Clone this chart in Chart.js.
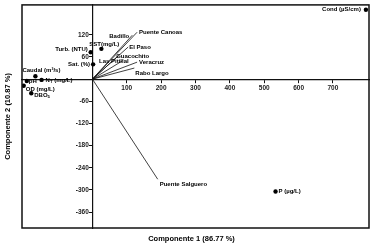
<!DOCTYPE html>
<html>
<head>
<meta charset="utf-8">
<script src="https://cdn.jsdelivr.net/npm/chart.js@4"></script>
<style>
  html, body { margin: 0; padding: 0; background: #fff; }
  #wrap { width: 373px; height: 247px; }
</style>
</head>
<body>
<div id="wrap"><canvas id="c" width="373" height="247"></canvas></div>
<script>
// ---- data ----
const xTitle = "Componente 1 (86.77 %)";
const yTitle = "Componente 2 (10.87 %)";
const xTicks = [100, 200, 300, 400, 500, 600, 700];
const yTicks = [-360, -300, -240, -180, -120, -60, 60, 120];

// site vectors (loadings)
const siteNames = ["Badillo", "Puente Canoas", "El Paso", "Guacochito", "Las Pitillal", "Veracruz", "Rabo Largo", "Puente Salguero"];
const siteX = [116, 130, 104, 75, 88, 130, 122, 190];
const siteY = [119, 127, 87, 63, 50, 46, 30, -271];

// variable scores
const varNames = ["Cond (µS/cm)", "P (µg/L)", "Turb. (NTU)", "SST(mg/L)", "Sat. (%)", "Caudal (m³/s)", "pH", "N_T (mg/L)", "OD (mg/L)", "DBO_5"];
const varX = [796, 533, -5, 26, 2, -166, -191, -148, -200, -178];
const varY = [188, -304, 73, 82, 40, 8, -5, -2, -18, -38];

// ---- label placement styles (offsets in px, alignment) ----
const siteLabelStyle = [
  {dx: -3, dy: 1, align: "right"},
  {dx: 2, dy: 0, align: "left"},
  {dx: 1, dy: 0, align: "left"},
  {dx: -2, dy: 0, align: "left"},
  {dx: 6, dy: 1, align: "right"},
  {dx: 2, dy: 0, align: "left"},
  {dx: 1, dy: 5, align: "left"},
  {dx: 2, dy: 5, align: "left"}
];
const varLabelStyle = [
  {dx: -5, dy: 0, align: "right"},
  {dx: 3, dy: 0, align: "left"},
  {dx: -3, dy: -3, align: "right"},
  {dx: 3, dy: -5, align: "center"},
  {dx: -3, dy: 0, align: "right"},
  {dx: 6, dy: -6, align: "center"},
  {dx: 2, dy: 0, align: "left"},
  {dx: 4, dy: 0, align: "left"},
  {dx: 2, dy: 4, align: "left"},
  {dx: 3, dy: 2, align: "left"}
];

const FONT = "'Liberation Sans', Arial, sans-serif";

const datasets = [];
siteNames.forEach((n, i) => {
  datasets.push({
    type: "scatter",
    label: n,
    data: [{x: 0, y: 0}, {x: siteX[i], y: siteY[i]}],
    showLine: true,
    borderColor: "#111",
    borderWidth: 0.8,
    pointRadius: 0,
    fill: false
  });
});
datasets.push({
  type: "scatter",
  label: "Variables",
  data: varX.map((v, i) => ({x: v, y: varY[i]})),
  pointRadius: 2.2,
  pointBackgroundColor: "#000",
  pointBorderColor: "#000",
  borderWidth: 0
});

function drawRich(ctx, text, x, y, align, size) {
  // supports single-char subscript after "_"
  const parts = [];
  for (let i = 0; i < text.length; i++) {
    if (text[i] === "_" && i + 1 < text.length) { parts.push({t: text[i + 1], sub: true}); i++; }
    else {
      if (parts.length && !parts[parts.length - 1].sub) parts[parts.length - 1].t += text[i];
      else parts.push({t: text[i], sub: false});
    }
  }
  const fMain = "bold " + size + "px " + FONT;
  const fSub = "bold " + (size * 0.7) + "px " + FONT;
  let w = 0;
  parts.forEach(p => { ctx.font = p.sub ? fSub : fMain; p.w = ctx.measureText(p.t).width; w += p.w; });
  let cx = align === "right" ? x - w : align === "center" ? x - w / 2 : x;
  ctx.textAlign = "left";
  ctx.textBaseline = "middle";
  parts.forEach(p => {
    ctx.font = p.sub ? fSub : fMain;
    ctx.fillText(p.t, cx, p.sub ? y + size * 0.3 : y);
    cx += p.w;
  });
}

const labelPlugin = {
  id: "labels",
  afterDatasetsDraw(chart) {
    const ctx = chart.ctx;
    const xs = chart.scales.x, ys = chart.scales.y;
    ctx.save();
    ctx.fillStyle = "#000";
    siteNames.forEach((n, i) => {
      const s = siteLabelStyle[i];
      drawRich(ctx, n, xs.getPixelForValue(siteX[i]) + s.dx, ys.getPixelForValue(siteY[i]) + s.dy, s.align, 6);
    });
    varNames.forEach((n, i) => {
      const s = varLabelStyle[i];
      drawRich(ctx, n, xs.getPixelForValue(varX[i]) + s.dx, ys.getPixelForValue(varY[i]) + s.dy, s.align, 6);
    });
    ctx.restore();
  },
  afterDraw(chart) {
    const ctx = chart.ctx, a = chart.chartArea;
    ctx.save();
    ctx.strokeStyle = "#111";
    ctx.lineWidth = 1.5;
    ctx.strokeRect(a.left, a.top, a.right - a.left, a.bottom - a.top);
    ctx.fillStyle = "#000";
    ctx.font = "bold 7.5px " + FONT;
    ctx.textAlign = "center";
    ctx.textBaseline = "middle";
    ctx.fillText(xTitle, (a.left + a.right) / 2 - 4, 239);
    ctx.translate(8, (a.top + a.bottom) / 2);
    ctx.rotate(-Math.PI / 2);
    ctx.fillText(yTitle, 0, 0);
    ctx.restore();
  }
};

new Chart(document.getElementById("c"), {
  type: "scatter",
  data: {datasets},
  options: {
    responsive: false,
    animation: false,
    devicePixelRatio: 1,
    layout: {padding: {left: 22, top: 4, right: 4, bottom: 19}},
    plugins: {legend: {display: false}, tooltip: {enabled: false}, title: {display: false}},
    scales: {
      x: {
        type: "linear",
        position: {y: 0},
        min: -205,
        max: 805,
        afterBuildTicks: s => { s.ticks = xTicks.map(v => ({value: v})); },
        afterFit: s => { s.height = 0; },
        grid: {display: true, drawOnChartArea: false, drawTicks: true, tickLength: 3, color: "#111", lineWidth: 1},
        border: {display: true, color: "#111", width: 1.2},
        ticks: {color: "#222", padding: 2, maxRotation: 0, autoSkip: false, font: {size: 6.5, weight: "bold", family: FONT}}
      },
      y: {
        type: "linear",
        position: {x: 0},
        min: -403,
        max: 201,
        afterBuildTicks: s => { s.ticks = yTicks.map(v => ({value: v})); },
        afterFit: s => { s.width = 0; },
        grid: {display: true, drawOnChartArea: false, drawTicks: true, tickLength: 3, color: "#111", lineWidth: 1},
        border: {display: true, color: "#111", width: 1.2},
        ticks: {
          color: "#222", padding: 1, autoSkip: false,
          font: {size: 6.5, weight: "bold", family: FONT},
          callback: v => v + "  "
        }
      }
    }
  },
  plugins: [labelPlugin]
});
</script>
</body>
</html>
